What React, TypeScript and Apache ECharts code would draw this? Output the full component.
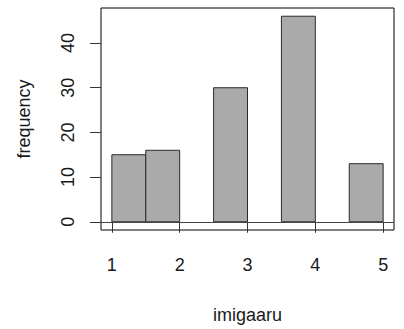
import React, { useEffect, useRef } from "react";
import * as echarts from "echarts";

const binStarts = [1, 1.5, 2, 2.5, 3, 3.5, 4, 4.5];
const binWidth = 0.5;
const counts = [15, 16, 0, 30, 0, 46, 0, 13];
const xTicks = [1, 2, 3, 4, 5];
const yTicks = [0, 10, 20, 30, 40];
const xTitle = "imigaaru";
const yTitle = "frequency";

export default function App() {
  const ref = useRef<HTMLDivElement>(null);
  useEffect(() => {
    document.body.style.margin = "0";
    const chart = echarts.init(ref.current!, null, { renderer: "svg" });
    const font = "'Liberation Sans', Arial, sans-serif";
    const data = binStarts.map((s, i) => [s, s + binWidth, counts[i]]);
    chart.setOption({
      animation: false,
      backgroundColor: "#ffffff",
      grid: {
        left: 101,
        top: 8,
        width: 293,
        height: 226,
        show: true,
        borderColor: "#000000",
        borderWidth: 1,
        backgroundColor: "transparent",
      },
      xAxis: {
        type: "value",
        min: 0.84,
        max: 5.16,
        name: xTitle,
        nameLocation: "middle",
        nameGap: 76,
        nameTextStyle: { fontFamily: font, fontSize: 18, color: "#1a1a1a" },
        axisLine: { show: false },
        axisTick: { show: true, length: 11, customValues: xTicks, lineStyle: { color: "#333333" } },
        axisLabel: { customValues: xTicks, margin: 26, fontFamily: font, fontSize: 18, color: "#1a1a1a" },
        splitLine: { show: false },
      },
      yAxis: {
        type: "value",
        min: -1.84,
        max: 47.84,
        name: yTitle,
        nameLocation: "middle",
        nameRotate: 90,
        nameGap: 68,
        nameTextStyle: { fontFamily: font, fontSize: 18, color: "#1a1a1a" },
        axisLine: { show: false },
        axisTick: { show: true, length: 11, customValues: yTicks, lineStyle: { color: "#333333" } },
        axisLabel: { customValues: yTicks, rotate: 90, margin: 24, fontFamily: font, fontSize: 18, color: "#1a1a1a" },
        splitLine: { show: false },
      },
      series: [
        {
          type: "custom",
          data,
          renderItem: (params: any, api: any) => {
            if (!(api.value(2) > 0)) return null;
            const p0 = api.coord([api.value(0), api.value(2)]);
            const p1 = api.coord([api.value(1), 0]);
            return {
              type: "rect",
              shape: { x: p0[0], y: p0[1], width: p1[0] - p0[0], height: p1[1] - p0[1] },
              style: { fill: "#aaaaaa", stroke: "#2b2b2b", lineWidth: 1 },
            };
          },
          markLine: {
            silent: true,
            symbol: ["none", "none"],
            label: { show: false },
            lineStyle: { color: "#444444", width: 1, type: "solid" },
            data: [{ yAxis: 0 }],
          },
        },
      ],
    });
    return () => chart.dispose();
  }, []);
  return <div ref={ref} style={{ width: 404, height: 329 }} />;
}
